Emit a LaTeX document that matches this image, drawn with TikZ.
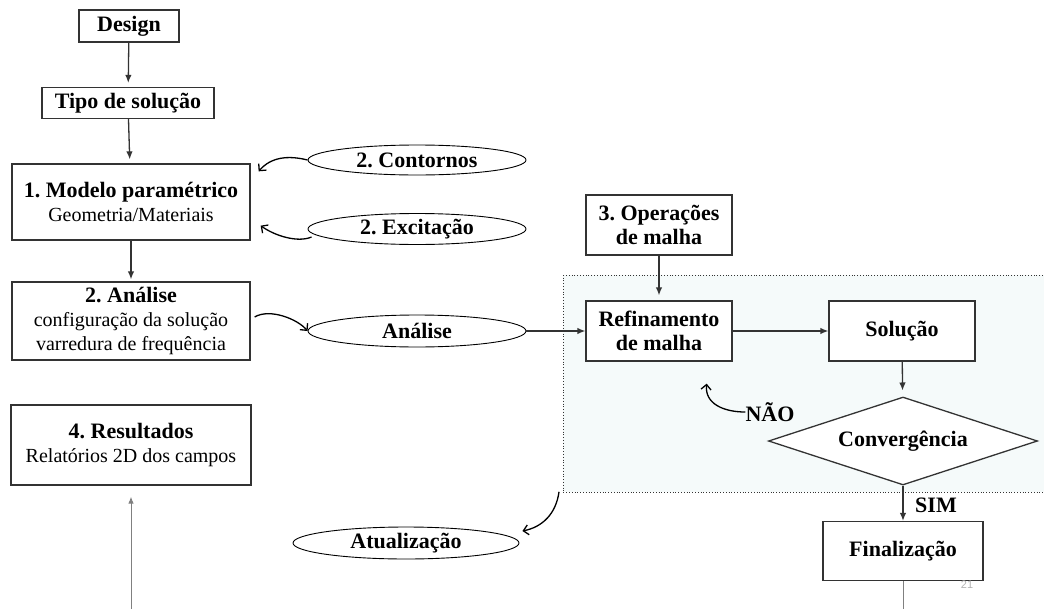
\documentclass[tikz,border=0pt]{standalone}
\usepackage{fontspec}
\setmainfont{Liberation Serif}
\newfontfamily\pagefont{Liberation Sans}
\usetikzlibrary{shapes.geometric,arrows.meta,calc}
\definecolor{boxline}{HTML}{333333}
\definecolor{regionfill}{HTML}{F5FAFA}
\definecolor{thingray}{HTML}{808080}
\newcommand\subtxt[1]{{\fontsize{20}{23.5}\selectfont\mdseries #1}}
\frenchspacing
\begin{document}
\begin{tikzpicture}[x=1pt,y=-1pt,
  box/.style={draw=boxline,line width=1.3pt,fill=white,align=center,inner sep=0pt,font=\fontsize{22}{24}\selectfont\bfseries},
  oval/.style={ellipse,draw=black,line width=0.9pt,fill=white,inner sep=0pt,font=\fontsize{22}{24}\selectfont\bfseries},
  arr/.style={-{Latex[length=8pt,width=6.5pt]},line width=1.3pt,draw=boxline},
  carr/.style={-{Straight Barb[length=5pt,width=10pt]},line width=1.3pt},
  grayarr/.style={line width=0.9pt,draw=thingray},
  lbl/.style={font=\fontsize{22}{24}\selectfont\bfseries,inner sep=0pt}
]
\useasboundingbox (0,0) rectangle (1044,608);

% dotted region
\node[draw=boxline,dotted,line width=0.8pt,fill=regionfill,minimum width=484pt,minimum height=217pt,anchor=north west,inner sep=0pt] (region) at (563,275) {};

% left column
\node[box,minimum width=100pt,minimum height=32pt] (design) at (129,26) {Design};
\node[box,minimum width=172pt,minimum height=31pt] (tipo) at (128,103) {Tipo de solução};
\node[box,minimum width=238pt,minimum height=76pt] (modelo) at (131,202) {1. Modelo paramétrico\\\subtxt{Geometria/Materiais}};
\node[box,minimum width=238pt,minimum height=78pt] (analise) at (131,321) {2. Análise\\\subtxt{configuração da solução}\\\subtxt{varredura de frequência}};
\node[box,minimum width=240pt,minimum height=80pt] (result) at (131,445) {4. Resultados\\\subtxt{Relatórios 2D dos campos}};

% ellipses
\node[oval,minimum width=218pt,minimum height=30pt] (contornos) at (417,160) {2. Contornos};
\node[oval,minimum width=218pt,minimum height=31pt] (excitacao) at (417,229) {2. Excitação};
\node[oval,minimum width=218pt,minimum height=32pt] (analiseell) at (417,331) {Análise};
\node[oval,minimum width=226pt,minimum height=32pt] (atual) at (406,543) {Atualização};

% right part
\node[box,minimum width=146pt,minimum height=60pt] (oper) at (659,225) {3. Operações\\de malha};
\node[box,minimum width=146pt,minimum height=60pt] (refin) at (659,331) {Refinamento\\de malha};
\node[box,minimum width=146pt,minimum height=60pt] (solucao) at (902,331) {Solução};
\node[diamond,shape aspect=3.06,draw=boxline,line width=1.3pt,fill=white,minimum width=269pt,minimum height=88pt,inner sep=0pt,font=\fontsize{22}{24}\selectfont\bfseries] (conv) at (903,441) {Convergência};
\node[box,minimum width=160pt,minimum height=59pt] (final) at (903,551) {Finalização};
\node[lbl] (nao) at (770,412) {NÃO};
\node[lbl] (sim) at (936,505) {SIM};
\node[font=\pagefont\fontsize{11}{12}\selectfont,text=gray!60,inner sep=0pt] (page) at (967,585) {21};

\coordinate (resbot) at (131,610);
\coordinate (finbot) at (903,610);

% straight arrows
\draw[arr,shorten >=4pt] (design) -- (tipo);
\draw[arr,shorten >=4pt] (tipo) -- (modelo);
\draw[arr,shorten >=2pt] (modelo) -- (analise);
\draw[arr,shorten >=5pt] (oper) -- (refin);
\draw[arr] (refin) -- (solucao);
\draw[arr,shorten >=6pt] (solucao) -- (conv);
\draw[arr] (conv) -- (final);
\draw[arr] (analiseell) -- (refin);
\draw[grayarr,-{Latex[length=7pt,width=5.5pt]},shorten >=11pt] (resbot) -- (result);
\draw[grayarr] (final) -- (finbot);

% curved arrows
\draw[carr] (contornos.west) .. controls +(-20,-5) and +(12,-14) .. ($(modelo.north east)+(8,8)$);
\draw[carr] ($(excitacao.west)+(4,8)$) .. controls +(-14,6) and +(14,10) .. ($(modelo.south east)+(10,-15)$);
\draw[carr] ($(analise.east)+(4,-4)$) .. controls +(15,-9) and +(-10,-12) .. (analiseell.west);
\draw[carr] ($(region.south west)+(-4,-1)$) .. controls +(-3,22) and +(20,-4) .. ($(atual.east)+(3,-12)$);
\draw[carr] (nao.west) .. controls +(-22,0) and +(-2,20) .. ($(refin.south east)+(-26,22)$);
\end{tikzpicture}
\end{document}
